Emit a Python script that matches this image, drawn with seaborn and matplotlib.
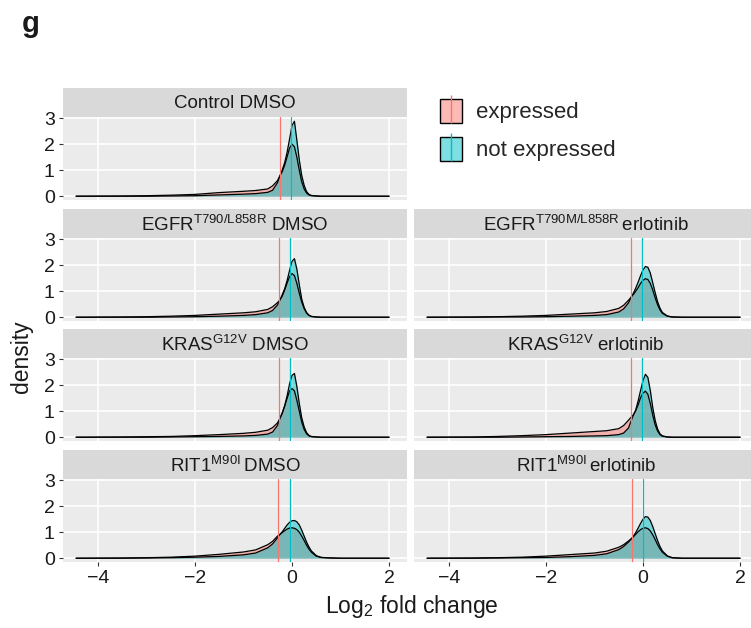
import numpy as np
import pandas as pd
import seaborn as sns
import matplotlib.pyplot as plt
from matplotlib.patches import Patch
from matplotlib.lines import Line2D
from matplotlib.legend_handler import HandlerTuple
from matplotlib.colors import to_rgba

x_grid = [-4.45, -3.5, -3.0, -2.5, -2.0, -1.5, -1.0, -0.75, -0.5, -0.4, -0.3, -0.25,
          -0.2, -0.15, -0.1, -0.05, 0.0, 0.05, 0.1, 0.15, 0.2, 0.25, 0.3, 0.35, 0.4,
          0.5, 0.6, 0.8, 1.0, 1.5, 2.0]

panel_titles = ['Control DMSO',
                'EGFR$^{T790/L858R}$ DMSO', 'EGFR$^{T790M/L858R}\\,$erlotinib',
                'KRAS$^{G12V}$ DMSO', 'KRAS$^{G12V}$ erlotinib',
                'RIT1$^{M90I}\\,$DMSO', 'RIT1$^{M90I}\\,$erlotinib']
panel_rows = [0, 1, 1, 2, 2, 3, 3]
panel_cols = [0, 0, 1, 0, 1, 0, 1]

dens_expressed = [
    [0, 0.01, 0.02, 0.04, 0.07, 0.14, 0.19, 0.22, 0.28, 0.40, 0.60, 0.78, 0.95, 1.20, 1.52, 1.85,
     2.00, 1.90, 1.50, 1.00, 0.55, 0.28, 0.12, 0.05, 0.02, 0.01, 0, 0, 0, 0, 0],
    [0, 0.01, 0.02, 0.04, 0.07, 0.12, 0.17, 0.21, 0.30, 0.40, 0.56, 0.66, 0.82, 1.05, 1.32, 1.56,
     1.68, 1.60, 1.30, 0.92, 0.58, 0.33, 0.16, 0.07, 0.03, 0.01, 0, 0, 0, 0, 0],
    [0, 0.01, 0.02, 0.04, 0.07, 0.12, 0.17, 0.22, 0.34, 0.46, 0.65, 0.76, 0.87, 1.00, 1.14, 1.30,
     1.42, 1.48, 1.45, 1.30, 1.05, 0.75, 0.48, 0.28, 0.15, 0.04, 0.01, 0, 0, 0, 0],
    [0, 0.01, 0.02, 0.03, 0.06, 0.10, 0.15, 0.19, 0.27, 0.37, 0.55, 0.72, 0.92, 1.20, 1.50, 1.78,
     1.87, 1.78, 1.42, 1.00, 0.58, 0.30, 0.13, 0.05, 0.02, 0.01, 0, 0, 0, 0, 0],
    [0, 0.01, 0.03, 0.06, 0.10, 0.16, 0.22, 0.25, 0.33, 0.45, 0.65, 0.76, 0.86, 1.02, 1.25, 1.52,
     1.70, 1.77, 1.65, 1.30, 0.85, 0.48, 0.24, 0.10, 0.04, 0.01, 0, 0, 0, 0, 0],
    [0, 0.01, 0.02, 0.04, 0.08, 0.15, 0.24, 0.32, 0.52, 0.65, 0.85, 0.91, 0.99, 1.06, 1.12, 1.16,
     1.17, 1.15, 1.10, 1.00, 0.85, 0.68, 0.50, 0.35, 0.23, 0.08, 0.03, 0.01, 0, 0, 0],
    [0, 0.01, 0.02, 0.04, 0.08, 0.14, 0.20, 0.27, 0.42, 0.52, 0.66, 0.74, 0.82, 0.92, 1.02, 1.10,
     1.15, 1.17, 1.14, 1.05, 0.90, 0.72, 0.52, 0.36, 0.23, 0.08, 0.02, 0, 0, 0, 0],
]
dens_not_expressed = [
    [0, 0, 0, 0.01, 0.02, 0.05, 0.08, 0.10, 0.15, 0.23, 0.52, 0.78, 1.02, 1.30, 1.70, 2.20,
     2.72, 2.88, 2.15, 1.40, 0.80, 0.42, 0.18, 0.07, 0.03, 0.01, 0, 0, 0, 0, 0],
    [0, 0, 0, 0.01, 0.02, 0.04, 0.07, 0.10, 0.17, 0.26, 0.47, 0.66, 0.87, 1.10, 1.42, 1.80,
     2.15, 2.25, 1.85, 1.25, 0.70, 0.38, 0.18, 0.08, 0.03, 0.01, 0, 0, 0, 0, 0],
    [0, 0, 0.01, 0.01, 0.02, 0.04, 0.07, 0.10, 0.20, 0.32, 0.55, 0.75, 0.92, 1.12, 1.35, 1.60,
     1.82, 1.95, 1.92, 1.70, 1.33, 0.95, 0.60, 0.35, 0.18, 0.05, 0.01, 0, 0, 0, 0],
    [0, 0, 0, 0.01, 0.02, 0.03, 0.05, 0.07, 0.12, 0.20, 0.45, 0.72, 0.95, 1.22, 1.60, 2.05,
     2.38, 2.45, 1.95, 1.30, 0.75, 0.40, 0.18, 0.07, 0.03, 0.01, 0, 0, 0, 0, 0],
    [0, 0, 0, 0.01, 0.02, 0.03, 0.05, 0.06, 0.10, 0.16, 0.35, 0.60, 0.84, 1.05, 1.40, 1.80,
     2.18, 2.42, 2.30, 1.80, 1.15, 0.65, 0.32, 0.13, 0.05, 0.01, 0, 0, 0, 0, 0],
    [0, 0, 0.01, 0.02, 0.04, 0.07, 0.13, 0.20, 0.40, 0.55, 0.78, 0.92, 1.02, 1.15, 1.28, 1.38,
     1.44, 1.45, 1.40, 1.28, 1.08, 0.85, 0.62, 0.43, 0.28, 0.10, 0.03, 0.01, 0, 0, 0],
    [0, 0, 0.01, 0.02, 0.03, 0.06, 0.11, 0.17, 0.33, 0.45, 0.62, 0.72, 0.84, 0.99, 1.16, 1.34,
     1.50, 1.60, 1.58, 1.45, 1.22, 0.95, 0.68, 0.45, 0.28, 0.09, 0.02, 0, 0, 0, 0],
]
median_expressed = [-0.25, -0.26, -0.25, -0.26, -0.24, -0.28, -0.23]
median_not_expressed = [-0.02, -0.04, -0.02, -0.04, -0.02, -0.04, -0.01]

groups = ['expressed', 'not expressed']
colors = {'expressed': '#F8766D', 'not expressed': '#00BFC4'}
x_ticks = [-4, -2, 0, 2]
y_ticks = [0, 1, 2, 3]

frames = []
for i, t in enumerate(panel_titles):
    for g, d in zip(groups, [dens_expressed[i], dens_not_expressed[i]]):
        frames.append(pd.DataFrame({'panel': i, 'group': g, 'lfc': x_grid, 'density': d}))
df = pd.concat(frames, ignore_index=True)

sns.set_theme(style="darkgrid")
plt.rcParams['font.family'] = ['Liberation Sans', 'DejaVu Sans']
plt.rcParams['mathtext.default'] = 'regular'

W, H = 751, 628
fig = plt.figure(figsize=(W / 100, H / 100), dpi=100)
fig.patch.set_facecolor('white')


def box(x0, y0, x1, y1):
    return [x0 / W, 1 - y1 / H, (x1 - x0) / W, (y1 - y0) / H]


col_px = [(63, 407), (414, 758)]
row_px = [(88, 117, 200), (209, 238, 321), (329, 358, 441), (450, 479, 562)]
txt = '#1A1A1A'

for i, title in enumerate(panel_titles):
    r, c = panel_rows[i], panel_cols[i]
    x0, x1 = col_px[c]
    s0, p0, p1 = row_px[r]

    # strip
    sax = fig.add_axes(box(x0, s0, x1, p0))
    sax.set_facecolor('#D9D9D9')
    sax.set_xticks([])
    sax.set_yticks([])
    for sp in sax.spines.values():
        sp.set_visible(False)
    sax.text(0.5, 0.45, title, ha='center', va='center', fontsize=13.5, color=txt,
             transform=sax.transAxes)

    ax = fig.add_axes(box(x0, p0, x1, p1))
    ax.set_facecolor('#EBEBEB')
    sub = df[df['panel'] == i]
    for g in groups:
        gd = sub[sub['group'] == g]
        ax.fill_between(gd['lfc'], 0, gd['density'], color=colors[g], alpha=0.5, lw=0)
        sns.lineplot(data=gd, x='lfc', y='density', color='black', lw=0.9,
                     estimator=None, sort=False, ax=ax, legend=False)
    ax.axvline(median_expressed[i], color=colors['expressed'], lw=0.9)
    ax.axvline(median_not_expressed[i], color=colors['not expressed'], lw=0.9)

    ax.set_xlim(-4.72, 2.37)
    ax.set_ylim(-0.145, 3.045)
    ax.set_xticks(x_ticks)
    ax.set_yticks(y_ticks)
    ax.grid(True, color='white', lw=1.2)
    ax.set_axisbelow(True)
    for sp in ax.spines.values():
        sp.set_visible(False)
    ax.set_xlabel('')
    ax.set_ylabel('')
    ax.tick_params(axis='both', length=3, width=0.8, color='#333333',
                   labelsize=14, labelcolor=txt, pad=3)
    if c == 0:
        ax.tick_params(axis='y', left=True)
    else:
        ax.tick_params(axis='y', left=False, labelleft=False)
    if r == 3:
        ax.tick_params(axis='x', bottom=True)
        ax.set_xticklabels(['\u22124', '\u22122', '0', '2'])
    else:
        ax.tick_params(axis='x', bottom=False, labelbottom=False)

fig.text(22 / W, 1 - 357 / H, 'density', rotation=90, ha='center', va='center',
         fontsize=16.5, color=txt)
fig.text(412 / W, 1 - 607 / H, 'Log$_2$ fold change', ha='center', va='center',
         fontsize=16.5, color=txt)
fig.text(31 / W, 1 - 32 / H, 'g', ha='center', va='baseline', fontsize=21,
         fontweight='bold', color=txt)

handles = []
for g in groups:
    handles.append((Patch(facecolor=to_rgba(colors[g], 0.5), edgecolor='black', lw=1.0),
                    Line2D([], [], marker='|', markersize=20.5, markeredgewidth=1.0,
                           color=colors[g], linestyle='none')))
fig.legend(handles=handles, labels=groups, loc='upper left',
           bbox_to_anchor=(440 / W, 1 - 99 / H), frameon=False, fontsize=16,
           handler_map={tuple: HandlerTuple(ndivide=1)},
           handlelength=1.0, handleheight=1.25, handletextpad=0.6,
           labelspacing=0.62, borderpad=0.0, borderaxespad=0.0)

fig.savefig('out.png', dpi=100)
